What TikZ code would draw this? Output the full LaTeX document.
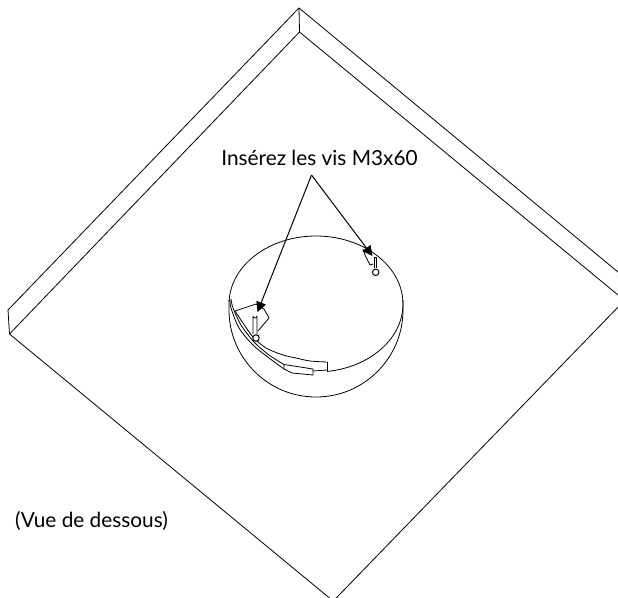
\documentclass[tikz,border=0pt]{standalone}
\usepackage{fontspec}
\setmainfont{Lato}
\usetikzlibrary{arrows.meta}
\tikzset{
  ln/.style={draw=black,line width=0.8pt,line join=round},
  lbl/.style={inner sep=0pt,anchor=base,font=\fontsize{20.8}{24}\selectfont},
  callout/.style={draw=black,line width=1pt,-{Triangle[length=10pt,width=10pt]}},
  screwhead/.style={circle,draw=black,line width=1pt,fill=white,minimum size=6.5pt,inner sep=0pt}
}
\begin{document}
\begin{tikzpicture}[x=1pt,y=-1pt]
\useasboundingbox (0,0) rectangle (618,597);
\clip (0,0) rectangle (618,597);
% plate
\coordinate (top) at (299,8);
\coordinate (apex) at (299.5,32);
\coordinate (lt) at (8,310);
\coordinate (lb) at (9.5,334);
\draw[ln] (lb) -- (lt) -- (top) -- (618,272);
\draw[ln] (top) -- (apex);
\draw[ln] (lb) -- (apex) -- (618,295);
\draw[ln] (lb) -- (332.9,600.8);
\draw[ln] (333.5,600.8) -- (622,303);
% dome
\draw[ln] plot[smooth,domain=82:-178,samples=70] ({316+87*cos(\x)},{304+68*sin(\x)});
\draw[ln] (229,300) -- (229,310) .. controls (229,358) and (268,397) .. (316,397) .. controls (364,397) and (403,358) .. (403,310) -- (403,300);
% left recess
\draw[ln] plot[smooth] coordinates {(230,299) (231,308) (239,328) (253,345) (269,358) (284,369)};
\draw[ln] plot[smooth] coordinates {(231,299) (233,308) (241,325) (254,342) (269,355) (284,364.5)};
\draw[ln] plot[smooth] coordinates {(235,311) (243,323) (253,337) (266,348) (283,355) (296,358) (310,361) (327,362)};
\draw[ln] (327,362) -- (327,372);
\draw[ln] (235,311) -- (256,304) -- (264,309) -- (269,318) -- (258,331);
\draw[ln,fill=white] (284,364.5) -- (284,369) -- (292,373) -- (313,375) -- (313,369) -- cycle;
\draw[ln] (313,371) -- (327,370);
\draw[ln,fill=white] (253,334) -- (253,316) arc[start angle=180,end angle=0,radius=2] -- (257,334);
\node[screwhead] (screwA) at (256,338) {};
% right recess
\draw[ln] (363,249) -- (365,255) -- (370,265) -- (373,264);
\draw[ln,fill=white] (374,268) -- (374,257) -- (376.7,257) -- (376.7,268);
\node[screwhead] (screwB) at (375.7,272.3) {};
% labels
\node[lbl] (title) at (319.5,165.5) {Insérez les vis M3x60};
\node[lbl] (view) at (91.5,527) {(Vue de dessous)};
\coordinate (tipA) at (257.5,312);
\coordinate (tipB) at (372.5,256);
\coordinate (from) at (311.5,175);
\draw[callout] (from) -- (tipA);
\draw[callout] (from) -- (tipB);
\end{tikzpicture}
\end{document}
